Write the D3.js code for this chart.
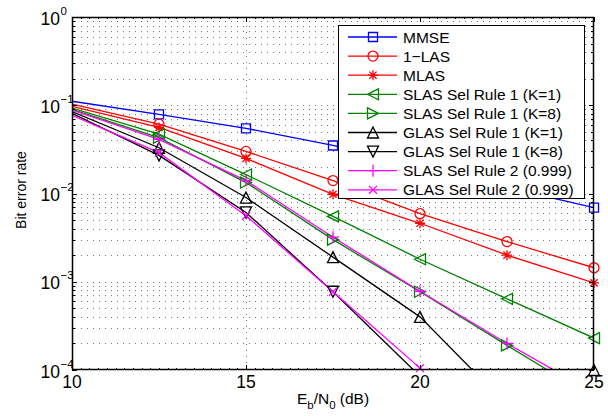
<!DOCTYPE html>
<html>
<head>
<meta charset="utf-8">
<script src="https://cdn.jsdelivr.net/npm/d3@7"></script>
<style>
  body { margin: 0; background: #fff; }
  svg { display: block; font-family: "Liberation Sans", Arial, sans-serif; }
</style>
</head>
<body>
<svg width="608" height="416"></svg>
<script>
// Eb/N0 points (dB)
const snr = [10, 12.5, 15, 17.5, 20, 22.5, 25]

// bit error rate, one array per detector
const mmse = [0.111, 0.079, 0.0548, 0.035, 0.0203, 0.0117, 0.0069]
const las1 = [0.103, 0.061, 0.030, 0.014, 0.0059, 0.00285, 0.00144]
const mlas = [0.097, 0.056, 0.025, 0.0098, 0.0046, 0.0020, 0.00097]
const slasK1 = [0.093, 0.047, 0.0164, 0.0055, 0.0018, 0.00064, 0.00023]
const slasK8 = [0.090, 0.043, 0.0133, 0.0030, 0.00077, 0.00019, 0.000048]
const glasK1 = [0.085, 0.033, 0.0090, 0.0019, 0.0004, 0.00004, 0.0001]
const glasK8 = [0.081, 0.027, 0.0061, 0.00077, 0.000085, 0.000012, 0.000002]
const slasR2 = [0.088, 0.041, 0.014, 0.0032, 0.00078, 0.0002, 0.000055]
const glasR2 = [0.077, 0.029, 0.0056, 0.00077, 0.000105, 0.000014, 0.000002]

const seriesNames = ["MMSE", "1\u2212LAS", "MLAS", "SLAS Sel Rule 1 (K=1)", "SLAS Sel Rule 1 (K=8)",
	"GLAS Sel Rule 1 (K=1)", "GLAS Sel Rule 1 (K=8)", "SLAS Sel Rule 2 (0.999)", "GLAS Sel Rule 2 (0.999)"]
const seriesValues = [mmse, las1, mlas, slasK1, slasK8, glasK1, glasK8, slasR2, glasR2]
const seriesColors = ["#0000ff", "#ff0000", "#ff0000", "#008000", "#008000", "#000000", "#000000", "#ff00ff", "#ff00ff"]
const seriesMarkers = ["square", "circle", "star", "tleft", "tright", "tup", "tdown", "plus", "cross"]

const xTicks = [10, 15, 20, 25]
const yExponents = [0, -1, -2, -3, -4]

var svg = d3.select("svg")
const pL = 72, pR = 594, pT = 17, pB = 370

var x = d3.scaleLinear().domain([10, 25]).range([pL, pR])
var y = d3.scaleLog().domain([1e-4, 1]).range([pB, pT])

// marker shapes, centred at 0,0
function markerPath(kind, s) {
	const d = s * 0.72
	switch (kind) {
		case "square": return `M${-s},${-s}H${s}V${s}H${-s}Z`
		case "circle": return `M${-s},0A${s},${s} 0 1,0 ${s},0A${s},${s} 0 1,0 ${-s},0Z`
		case "star": return `M${-s},0H${s}M0,${-s}V${s}M${-d},${-d}L${d},${d}M${-d},${d}L${d},${-d}`
		case "tleft": return `M${-s},0L${s},${-s}L${s},${s}Z`
		case "tright": return `M${s},0L${-s},${-s}L${-s},${s}Z`
		case "tup": return `M0,${-s}L${s},${s}L${-s},${s}Z`
		case "tdown": return `M0,${s}L${s},${-s}L${-s},${-s}Z`
		case "plus": return `M${-s - 1},0H${s + 1}M0,${-s - 1}V${s + 1}`
		case "cross": return `M${-d},${-d}L${d},${d}M${-d},${d}L${d},${-d}`
	}
}
const markerSize = { square: 4.5, circle: 5, star: 5, tleft: 5.5, tright: 5.5, tup: 5.5, tdown: 5.5, plus: 5, cross: 5.5 }

svg.append("defs").append("clipPath").attr("id", "plotclip")
	.append("rect").attr("x", pL).attr("y", pT).attr("width", pR - pL).attr("height", pB - pT)

// grid
var grid = svg.append("g").attr("stroke", "#777").attr("stroke-width", 1).attr("stroke-dasharray", "1,5")
var yGridVals = []
yExponents.forEach(function (e) {
	if (e > -4) {
		for (let m = 1; m <= 9; m++) yGridVals.push(m * Math.pow(10, e - 1))
	}
})
grid.selectAll(".hg").data(yGridVals.filter(v => v > 1e-4 && v < 1)).enter().append("line")
	.attr("x1", pL + 3).attr("x2", pR)
	.attr("y1", d => Math.round(y(d)) + 0.5).attr("y2", d => Math.round(y(d)) + 0.5)
grid.selectAll(".vg").data(xTicks.slice(1, -1)).enter().append("line")
	.attr("x1", d => Math.round(x(d)) + 0.5).attr("x2", d => Math.round(x(d)) + 0.5)
	.attr("y1", pT + 3).attr("y2", pB)

// lines
var line = d3.line().x((d, i) => x(snr[i])).y(d => y(d))
var lines_g = svg.append("g").attr("clip-path", "url(#plotclip)")
seriesValues.forEach(function (vals, k) {
	lines_g.append("path").attr("d", line(vals))
		.attr("fill", "none").attr("stroke", seriesColors[k]).attr("stroke-width", 1.3)
})

// markers (none at the first point)
var marks_g = svg.append("g")
seriesValues.forEach(function (vals, k) {
	marks_g.selectAll(null).data(vals.map((v, i) => [snr[i], v]).filter((p, i) => i > 0 && p[1] >= 0.99e-4))
		.enter().append("path")
		.attr("transform", p => `translate(${x(p[0])},${y(p[1])})`)
		.attr("d", markerPath(seriesMarkers[k], markerSize[seriesMarkers[k]]))
		.attr("fill", "none").attr("stroke", seriesColors[k]).attr("stroke-width", 1.3)
})

// axes box and ticks
var ax = svg.append("g").attr("stroke", "#000").attr("stroke-width", 1)
ax.append("rect").attr("x", pL + 0.5).attr("y", pT + 0.5)
	.attr("width", pR - pL - 1).attr("height", pB - pT - 1).attr("fill", "none").attr("stroke-width", 1.5)
var xMinor = d3.range(10, 25.01, 0.25)
xMinor.forEach(function (v) {
	const px = Math.round(x(v)) + 0.5
	const major = xTicks.includes(v)
	const len = major ? 5 : 2
	ax.append("line").attr("x1", px).attr("x2", px).attr("y1", pB).attr("y2", pB - len)
	ax.append("line").attr("x1", px).attr("x2", px).attr("y1", pT).attr("y2", pT + len)
})
yGridVals.concat([1e-4]).forEach(function (v) {
	const py = Math.round(y(v)) + 0.5
	const major = Math.abs(Math.log10(v) - Math.round(Math.log10(v))) < 1e-9
	const len = major ? 5 : 3
	ax.append("line").attr("x1", pL).attr("x2", pL + len).attr("y1", py).attr("y2", py)
	ax.append("line").attr("x1", pR).attr("x2", pR - len).attr("y1", py).attr("y2", py)
})

// tick labels
var labels = svg.append("g").attr("font-size", 17.5).attr("fill", "#000")
labels.selectAll(".xl").data(xTicks).enter().append("text")
	.attr("x", d => x(d)).attr("y", 388).attr("text-anchor", "middle").text(d => d)
yExponents.forEach(function (e) {
	const py = y(Math.pow(10, e))
	labels.append("text").attr("x", 60).attr("y", py + 7.5).attr("text-anchor", "end").text("10")
	labels.append("text").attr("x", 60.5).attr("y", py - 2.5).attr("font-size", 11.5)
		.text(e === 0 ? "0" : "\u2212" + (-e))
})

// axis titles
var xt = labels.append("text").attr("x", x(17.5)).attr("y", 404).attr("text-anchor", "middle").attr("font-size", 15.5)
xt.append("tspan").text("E")
xt.append("tspan").attr("dy", 5).attr("font-size", 11.5).text("b")
xt.append("tspan").attr("dy", -5).text("/N")
xt.append("tspan").attr("dy", 5).attr("font-size", 11.5).text("0")
xt.append("tspan").attr("dy", -5).text(" (dB)")
labels.append("text").attr("transform", `translate(26,${190}) rotate(-90)`)
	.attr("text-anchor", "middle").attr("font-size", 14).text("Bit error rate")

// legend
const legX = 338, legY = 25, legW = 246, legH = 173, rowH = 19.1
var leg = svg.append("g")
leg.append("rect").attr("x", legX + 0.5).attr("y", legY + 0.5).attr("width", legW).attr("height", legH)
	.attr("fill", "#fff").attr("stroke", "#000").attr("stroke-width", 1)
seriesNames.forEach(function (name, k) {
	const cy = legY + 12 + k * rowH
	leg.append("line").attr("x1", legX + 10).attr("x2", legX + 59).attr("y1", cy).attr("y2", cy)
		.attr("stroke", seriesColors[k]).attr("stroke-width", 1.3)
	leg.append("path").attr("transform", `translate(${legX + 35},${cy})`)
		.attr("d", markerPath(seriesMarkers[k], markerSize[seriesMarkers[k]]))
		.attr("fill", "none").attr("stroke", seriesColors[k]).attr("stroke-width", 1.3)
	leg.append("text").attr("x", legX + 65).attr("y", cy + 5.5).attr("font-size", 15.5).text(name)
})
</script>
</body>
</html>
